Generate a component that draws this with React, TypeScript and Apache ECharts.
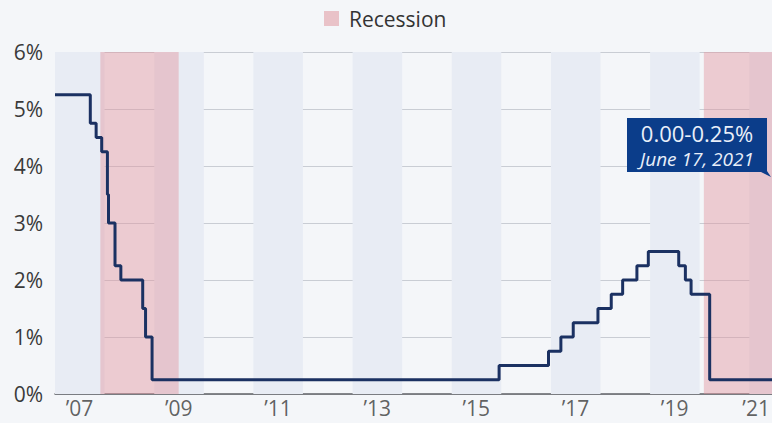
import React, { useEffect, useRef } from "react";
import * as echarts from "echarts";

// Federal funds target rate, upper bound (%), by decision date
const rateDates = [
  "2007-01-01", "2007-09-18", "2007-10-31", "2007-12-11", "2008-01-22",
  "2008-01-30", "2008-03-18", "2008-04-30", "2008-10-08", "2008-10-29",
  "2008-12-16", "2015-12-16", "2016-12-14", "2017-03-15", "2017-06-14",
  "2017-12-13", "2018-03-21", "2018-06-13", "2018-09-26", "2018-12-19",
  "2019-07-31", "2019-09-18", "2019-10-30", "2020-03-15", "2021-06-17",
];
const rateUpper = [
  5.25, 4.75, 4.5, 4.25, 3.5,
  3.0, 2.25, 2.0, 1.5, 1.0,
  0.25, 0.5, 0.75, 1.0, 1.25,
  1.5, 1.75, 2.0, 2.25, 2.5,
  2.25, 2.0, 1.75, 0.25, 0.25,
];

// Recession periods
const recessionStarts = ["2007-12-01", "2020-02-01"];
const recessionEnds = ["2009-06-30", "2021-06-17"];

// Shaded (odd) years in the background
const stripeYears = [2007, 2009, 2011, 2013, 2015, 2017, 2019, 2021];

// Year tick labels and the dates they sit on
const yearLabels = ["’07", "’09", "’11", "’13", "’15", "’17", "’19", "’21"];
const yearLabelDates = [
  "2007-07-01", "2009-07-01", "2011-07-01", "2013-07-01",
  "2015-07-01", "2017-07-01", "2019-07-01", "2021-02-20",
];

const axisStart = "2007-01-01";
const axisEnd = "2021-06-17";

const annotationValue = "0.00-0.25%";
const annotationDate = "June 17, 2021";

const FONT = "'Open Sans', 'Noto Sans', sans-serif";
const NAVY_BOX = "#0b3d8a";

export default function App() {
  const ref = useRef<HTMLDivElement>(null);

  useEffect(() => {
    if (!ref.current) return;
    const chart = echarts.init(ref.current, undefined, { renderer: "svg" });

    const rateData = rateDates.map((d, i) => [d, rateUpper[i]]);

    const stripeAreas = stripeYears.map((y) => [
      { xAxis: `${y}-01-01`, itemStyle: { color: "#e8ecf4" } },
      { xAxis: y + 1 > 2021 ? axisEnd : `${y + 1}-01-01` },
    ]);
    const recessionAreas = recessionStarts.map((s, i) => [
      { xAxis: s, itemStyle: { color: "rgba(226,150,160,0.45)" } },
      { xAxis: recessionEnds[i] },
    ]);

    chart.setOption({
      animation: false,
      backgroundColor: "#f4f6f9",
      textStyle: { fontFamily: FONT },
      legend: {
        data: [{ name: "Recession", icon: "rect" }],
        left: 324,
        top: 8,
        padding: 0,
        itemWidth: 15,
        itemHeight: 15,
        selectedMode: false,
        textStyle: {
          fontSize: 21,
          color: "#333",
          fontFamily: FONT,
          padding: [0, 0, 0, 5],
        },
      },
      grid: { left: 55, right: 0, top: 52, bottom: 29 },
      xAxis: {
        type: "time",
        min: axisStart,
        max: axisEnd,
        axisLabel: { show: false },
        axisTick: { show: false },
        splitLine: { show: false },
        axisLine: { show: true, lineStyle: { color: "#5f6166", width: 1.5 } },
      },
      yAxis: {
        type: "value",
        min: 0,
        max: 6,
        interval: 1,
        axisLine: { show: false },
        axisTick: { show: false },
        axisLabel: {
          formatter: "{value}%",
          fontSize: 21,
          color: "#3a3a3a",
          margin: 12,
          fontFamily: FONT,
        },
        splitLine: { lineStyle: { color: "#c9cdd4", width: 1 } },
      },
      series: [
        {
          name: "Recession",
          type: "line",
          data: rateData,
          step: "end",
          showSymbol: false,
          silent: true,
          z: 1,
          lineStyle: { opacity: 0 },
          itemStyle: { color: "#e9c2c8" },
          markArea: {
            silent: true,
            data: [...stripeAreas, ...recessionAreas],
          },
        },
        {
          name: "Fed funds rate",
          type: "line",
          data: rateData,
          step: "end",
          showSymbol: false,
          silent: true,
          z: 5,
          lineStyle: { color: "#1b3162", width: 3 },
          itemStyle: { color: "#1b3162" },
        },
        {
          name: "Years",
          type: "scatter",
          data: yearLabelDates.map((d) => [d, 0]),
          symbolSize: 0,
          silent: true,
          z: 6,
          itemStyle: { color: "rgba(0,0,0,0)" },
          label: {
            show: true,
            position: "bottom",
            distance: 3,
            lineHeight: 22,
            formatter: (p: any) => yearLabels[p.dataIndex],
            fontSize: 21,
            color: "#3a3a3a",
            fontFamily: FONT,
          },
        },
      ],
      graphic: [
        {
          type: "group",
          x: 627,
          y: 118,
          z: 100,
          children: [
            {
              type: "rect",
              z: 100,
              shape: { x: 0, y: 0, width: 140, height: 54 },
              style: { fill: NAVY_BOX },
            },
            {
              type: "polygon",
              z: 100,
              shape: { points: [[132, 53], [140, 53], [144, 59]] },
              style: { fill: NAVY_BOX },
            },
            {
              type: "text",
              z: 101,
              x: 70,
              y: 15,
              style: {
                text: annotationValue,
                fill: "#e9eff9",
                font: `22px ${FONT}`,
                lineHeight: 24,
                textAlign: "center",
                textVerticalAlign: "middle",
              },
            },
            {
              type: "text",
              z: 101,
              x: 70,
              y: 41,
              style: {
                text: annotationDate,
                fill: "#e9eff9",
                font: `italic 19px ${FONT}`,
                lineHeight: 20,
                textAlign: "center",
                textVerticalAlign: "middle",
              },
            },
          ],
        },
      ],
    });

    return () => chart.dispose();
  }, []);

  return (
    <div
      ref={ref}
      style={{ position: "fixed", left: 0, top: 0, width: 772, height: 423 }}
    />
  );
}
